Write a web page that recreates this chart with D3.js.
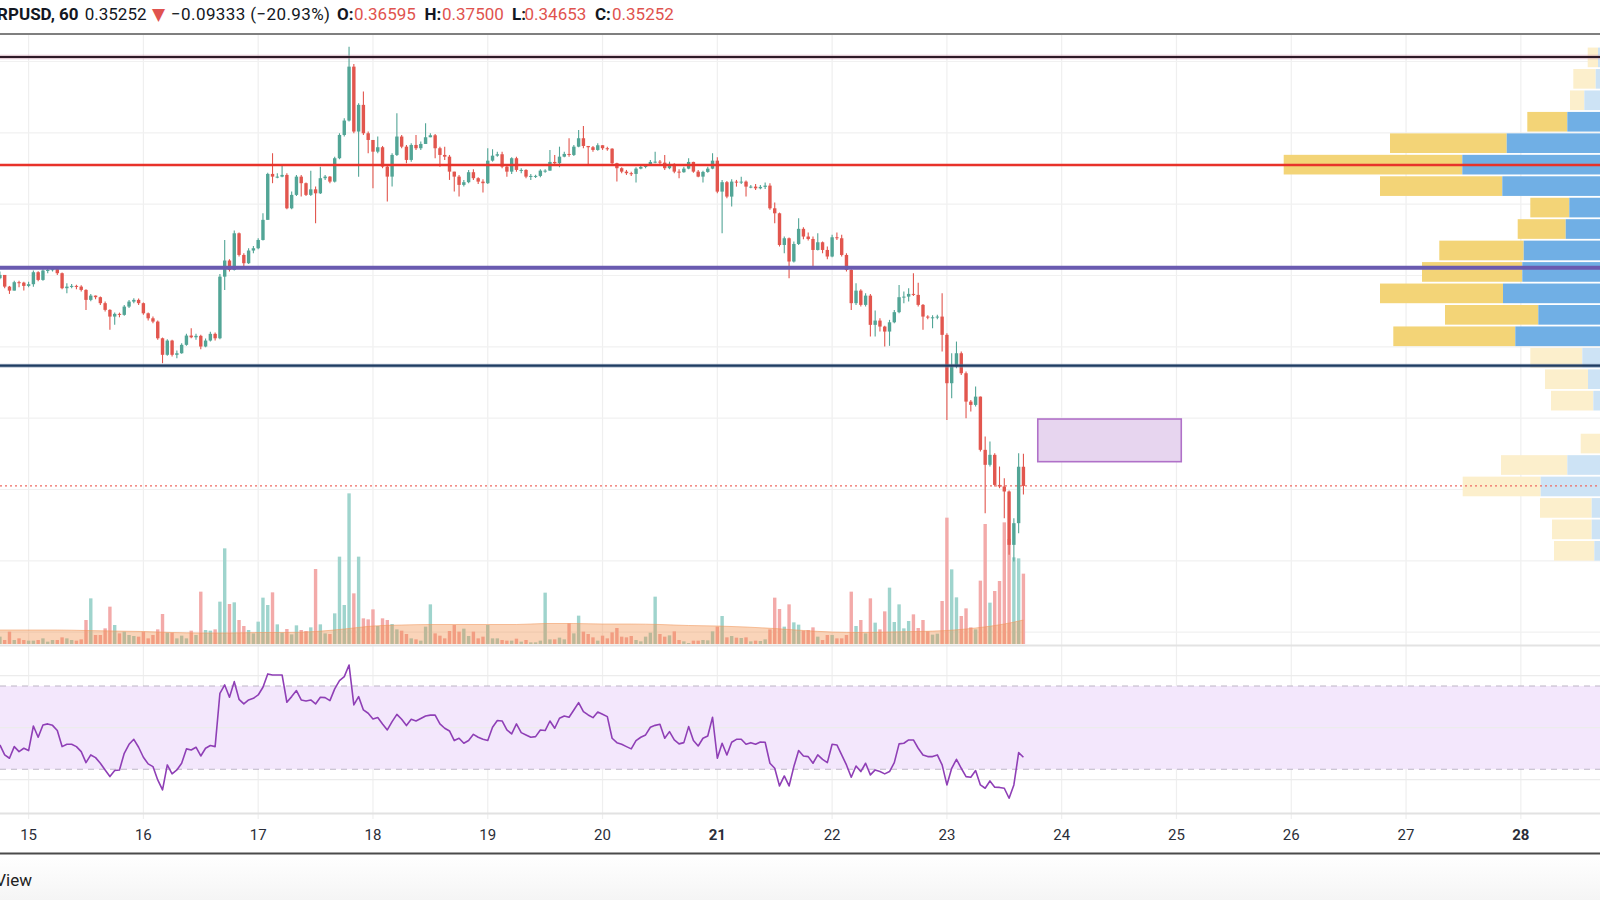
<!DOCTYPE html>
<html><head><meta charset="utf-8">
<script src="https://cdn.jsdelivr.net/npm/d3@7"></script>
<style>html,body{margin:0;padding:0;background:#fff;overflow:hidden}svg{display:block;font-family:Roboto,"Noto Sans",sans-serif}</style>
</head><body>
<svg id="chart" width="1600" height="900"></svg>
<script>
// ---------------- DATA ----------------
const symbol = "XRPUSD, 60";
const headerChange = -0.09333;
const headerChangePct = -20.93;
const startHour = -6;            // first bar, hours after day 15 00:00
const firstOpen = 0.4981;
const closes = [0.5004,0.4922,0.4894,0.4953,0.4950,0.4927,0.4939,0.5023,0.4969,0.5035,
0.5039,0.5044,0.5016,0.4911,0.4922,0.4927,0.4922,0.4899,0.4829,0.4859,
0.4848,0.4806,0.4759,0.4712,0.4731,0.4724,0.4782,0.4817,0.4829,0.4806,
0.4735,0.4700,0.4677,0.4560,0.4444,0.4544,0.4444,0.4455,0.4514,0.4579,
0.4567,0.4577,0.4502,0.4544,0.4591,0.4560,0.4992,0.5105,0.5039,0.5296,
0.5144,0.5086,0.5175,0.5191,0.5249,0.5390,0.5712,0.5693,0.5693,0.5705,
0.5471,0.5565,0.5693,0.5647,0.5565,0.5604,0.5576,0.5682,0.5693,0.5658,
0.5822,0.5985,0.6086,0.6464,0.6009,0.6196,0.5997,0.5950,0.5868,0.5899,
0.5763,0.5693,0.5845,0.5974,0.5903,0.5810,0.5915,0.5892,0.5922,0.5969,
0.5983,0.5892,0.5845,0.5833,0.5728,0.5693,0.5635,0.5654,0.5724,0.5682,
0.5658,0.5647,0.5805,0.5840,0.5850,0.5763,0.5728,0.5822,0.5740,0.5740,
0.5693,0.5698,0.5698,0.5735,0.5735,0.5796,0.5787,0.5833,0.5852,0.5845,
0.5903,0.5962,0.5908,0.5899,0.5880,0.5913,0.5892,0.5889,0.5787,0.5752,
0.5728,0.5717,0.5712,0.5749,0.5761,0.5773,0.5796,0.5798,0.5791,0.5752,
0.5782,0.5728,0.5724,0.5749,0.5796,0.5728,0.5693,0.5726,0.5749,0.5805,
0.5588,0.5654,0.5553,0.5658,0.5651,0.5658,0.5623,0.5623,0.5611,0.5621,
0.5630,0.5471,0.5436,0.5214,0.5261,0.5098,0.5221,0.5327,0.5273,0.5256,
0.5179,0.5233,0.5179,0.5133,0.5268,0.5261,0.5144,0.5039,0.4806,0.4894,
0.4794,0.4859,0.4654,0.4684,0.4642,0.4607,0.4672,0.4743,0.4848,0.4852,
0.4871,0.4864,0.4794,0.4712,0.4707,0.4707,0.4712,0.4584,0.4245,0.4362,
0.4455,0.4315,0.4116,0.4093,0.4151,0.3778,0.3673,0.3743,0.3532,0.3521,
0.3486,0.3112,0.3264,0.36595,0.35252];
const highs = [0.5028,0.4988,0.4927,0.4964,0.4964,0.4957,0.4957,0.5035,0.5030,0.5044,
0.5053,0.5058,0.5049,0.5021,0.4946,0.4941,0.4936,0.4932,0.4904,0.4871,
0.4857,0.4852,0.4817,0.4764,0.4740,0.4740,0.4794,0.4829,0.4841,0.4838,
0.4810,0.4740,0.4712,0.4684,0.4565,0.4553,0.4549,0.4474,0.4525,0.4591,
0.4630,0.4591,0.4584,0.4558,0.4605,0.4600,0.5011,0.5249,0.5114,0.5315,
0.5301,0.5156,0.5191,0.5207,0.5261,0.5436,0.5721,0.5857,0.5717,0.5775,
0.5717,0.5588,0.5705,0.5705,0.5651,0.5735,0.5623,0.5763,0.5705,0.5698,
0.5833,0.5997,0.6102,0.6604,0.6483,0.6207,0.6289,0.6009,0.5950,0.5974,
0.5908,0.5782,0.5857,0.6137,0.5985,0.5915,0.5927,0.5985,0.5939,0.6067,
0.5997,0.5992,0.5903,0.5903,0.5845,0.5728,0.5705,0.5670,0.5740,0.5745,
0.5689,0.5675,0.5892,0.5885,0.5868,0.5868,0.5768,0.5829,0.5833,0.5752,
0.5745,0.5712,0.5707,0.5745,0.5745,0.5880,0.5845,0.5903,0.5868,0.5962,
0.5915,0.6020,0.6048,0.5908,0.5908,0.5927,0.5913,0.5903,0.5892,0.5791,
0.5759,0.5740,0.5728,0.5759,0.5775,0.5782,0.5810,0.5868,0.5810,0.5845,
0.5798,0.5787,0.5745,0.5763,0.5822,0.5798,0.5740,0.5735,0.5763,0.5857,
0.5829,0.5670,0.5663,0.5675,0.5670,0.5693,0.5665,0.5635,0.5642,0.5635,
0.5651,0.5647,0.5511,0.5441,0.5273,0.5266,0.5238,0.5401,0.5338,0.5301,
0.5273,0.5296,0.5238,0.5203,0.5285,0.5301,0.5285,0.5156,0.5044,0.4946,
0.4904,0.4876,0.4871,0.4754,0.4700,0.4647,0.4689,0.4759,0.4934,0.4887,
0.4911,0.5016,0.4950,0.4801,0.4721,0.4721,0.4724,0.4876,0.4595,0.4455,
0.4537,0.4467,0.4327,0.4128,0.4222,0.4151,0.3871,0.3836,0.3754,0.3661,
0.3579,0.3493,0.3299,0.3754,0.37500];
const lows = [0.4974,0.4911,0.4871,0.4894,0.4918,0.4894,0.4918,0.4922,0.4960,0.4964,
0.5016,0.5028,0.5004,0.4904,0.4876,0.4911,0.4904,0.4887,0.4759,0.4820,
0.4834,0.4794,0.4747,0.4619,0.4654,0.4707,0.4717,0.4773,0.4806,0.4794,
0.4724,0.4684,0.4665,0.4549,0.4385,0.4437,0.4432,0.4420,0.4451,0.4507,
0.4560,0.4549,0.4483,0.4497,0.4537,0.4544,0.4553,0.4899,0.5028,0.5035,
0.5133,0.5067,0.5081,0.5156,0.5184,0.5245,0.5390,0.5647,0.5682,0.5689,
0.5464,0.5464,0.5558,0.5553,0.5558,0.5558,0.5366,0.5572,0.5670,0.5647,
0.5651,0.5815,0.5974,0.6079,0.5997,0.5693,0.5985,0.5857,0.5611,0.5857,
0.5752,0.5518,0.5623,0.5838,0.5892,0.5787,0.5798,0.5880,0.5880,0.5927,
0.5969,0.5822,0.5763,0.5810,0.5670,0.5588,0.5553,0.5623,0.5647,0.5670,
0.5642,0.5581,0.5642,0.5798,0.5833,0.5752,0.5693,0.5712,0.5728,0.5717,
0.5682,0.5670,0.5684,0.5689,0.5721,0.5735,0.5775,0.5759,0.5829,0.5833,
0.5838,0.5899,0.5892,0.5782,0.5868,0.5875,0.5880,0.5875,0.5775,0.5658,
0.5717,0.5705,0.5698,0.5651,0.5745,0.5752,0.5768,0.5787,0.5782,0.5740,
0.5745,0.5717,0.5682,0.5721,0.5745,0.5721,0.5689,0.5651,0.5721,0.5745,
0.5576,0.5296,0.5541,0.5483,0.5623,0.5642,0.5553,0.5611,0.5600,0.5604,
0.5607,0.5460,0.5366,0.5203,0.5156,0.4981,0.5091,0.5214,0.5254,0.5245,
0.5063,0.5175,0.5156,0.5114,0.5128,0.5249,0.5133,0.5028,0.4759,0.4794,
0.4782,0.4782,0.4572,0.4572,0.4607,0.4502,0.4507,0.4665,0.4735,0.4806,
0.4817,0.4857,0.4782,0.4619,0.4693,0.4630,0.4693,0.4467,0.3988,0.4140,
0.4350,0.4303,0.3999,0.4046,0.4081,0.3766,0.3334,0.3661,0.3521,0.3509,
0.3299,0.3042,0.2995,0.3194,0.34653];
const volumes = [1.47,0.8,2.47,0.8,1.13,0.8,0.67,0.67,0.8,1.13,
0.47,0.8,0.8,1.33,1.13,0.8,0.67,0.93,4.8,9.13,
1.8,1.8,3.13,7.47,3.8,2.13,2.47,1.8,1.6,1.47,
2.47,1.13,1.8,2.93,6.0,2.27,2.27,1.13,1.67,1.13,
2.67,1.8,10.47,2.8,2.67,2.93,8.47,19.13,8.0,8.33,
4.8,3.6,2.8,2.13,4.47,9.27,7.8,10.33,3.93,2.27,
3.0,1.93,3.73,2.8,2.6,3.33,15.0,3.93,2.13,2.0,
6.13,17.47,7.8,30.13,10.13,17.47,5.13,4.93,6.93,3.6,
5.13,4.8,4.0,2.93,2.67,2.0,1.13,0.93,0.67,3.47,
7.93,2.13,1.67,1.13,2.6,3.8,2.47,3.07,1.6,2.47,
1.13,1.47,3.8,1.13,1.13,0.8,0.67,0.67,1.07,
0.47,0.8,0.33,0.33,0.67,10.27,0.93,0.93,1.27,0.93,
4.13,2.13,5.67,2.47,2.0,1.33,0.67,1.67,1.13,2.33,
3.2,1.47,1.33,1.6,0.8,0.53,1.47,2.27,9.47,2.0,
1.47,1.73,2.53,0.8,0.53,0.2,0.67,0.67,0.8,0.73,
2.53,3.47,5.6,1.33,1.6,1.27,1.2,1.33,0.53,0.67,
0.6,0.93,2.93,9.27,7.0,3.47,7.93,4.33,3.87,2.67,
2.8,3.33,1.47,0.8,1.8,1.8,1.13,1.13,1.8,10.47,
3.6,4.8,2.13,9.13,4.27,2.93,6.53,11.27,4.4,7.93,
3.13,4.6,5.93,3.2,4.8,2.53,1.87,2.07,8.6,25.27,
14.93,9.33,5.6,7.13,3.33,2.93,12.67,24.0,8.27,10.6,
12.6,24.33,21.0,17.33,17.13,14.07];
const volMAHours = [-6,0,6,12,18,24,30,36,42,48,54,60,66,72,78,84,90,96,102,108,114,120,126,132,138,144,150,156,162,168,174,180,186,192,198,204,208];
const volMA = [2.8,2.8,2.8,2.7,2.6,2.5,2.3,2.2,2.2,2.3,2.3,2.5,3.0,3.6,3.8,3.9,3.9,3.9,3.9,4.1,4.1,4.0,4.0,3.9,3.7,3.6,3.4,3.1,2.7,2.4,2.3,2.4,2.5,2.7,3.2,4.0,4.8];
const rsi = [41.7,36.9,35.3,40.9,38.5,40.1,39.0,50.8,45.4,51.3,
51.8,51.1,48.6,40.9,42.0,42.0,40.9,38.5,33.2,36.9,
35.6,32.9,29.7,26.5,29.4,29.7,37.7,42.0,44.4,40.6,
35.8,32.6,31.3,24.9,20.1,32.1,27.8,29.7,32.9,39.8,
39.3,40.6,36.4,40.1,41.4,40.9,66.5,70.5,64.6,72.1,
63.6,61.4,63.3,64.1,65.7,69.4,75.8,75.3,75.3,75.3,
62.2,64.9,67.8,63.3,62.8,63.3,61.4,64.6,64.4,63.0,
68.6,72.6,74.5,80.1,60.9,64.9,58.5,56.9,54.2,54.9,
51.8,48.9,52.9,56.4,54.0,51.0,54.0,53.2,54.4,55.6,
56.0,56.0,51.8,49.7,48.4,43.8,44.9,42.5,43.8,46.8,
45.4,44.4,43.8,50.2,53.4,53.2,48.9,47.0,51.8,47.6,
46.5,45.4,45.7,48.9,48.6,53.2,49.7,54.5,55.6,55.0,
58.5,62.0,57.7,56.1,54.8,57.5,56.4,55.3,44.9,42.8,
42.0,40.9,39.8,43.8,45.4,46.5,50.2,51.1,51.6,44.9,
48.1,44.1,42.2,42.8,50.5,43.8,41.2,44.9,46.0,55.0,
35.3,42.5,36.9,43.0,44.4,44.4,42.0,42.8,42.0,43.1,
43.0,32.9,30.5,22.0,26.8,22.0,31.3,39.0,36.4,36.1,
32.9,36.9,34.8,33.2,42.0,41.7,36.9,32.1,26.2,31.6,
28.9,32.9,27.3,29.7,28.9,27.8,28.9,33.2,42.2,42.5,
44.1,44.1,40.1,36.9,36.1,36.1,36.9,32.1,22.5,30.5,
34.8,30.5,26.5,26.2,29.4,22.5,20.9,24.4,21.4,21.3,
20.9,16.1,22.5,38.0,35.8];
const dayTicks = [15,16,17,18,19,20,21,22,23,24,25,26,27,28];
const boldDays = [21,28];
const priceGrid = [0.25,0.30,0.35,0.40,0.45,0.50,0.55,0.60,0.65];
const rsiGrid = [25,50,75];
const rsiBands = [30,70];
const levels = [0.6532,0.5775,0.5055,0.4368];
const lastPrice = 0.35252;
const boxHours = [211,241];
const boxPrices = [0.3695,0.3994];
const profileTop = 0.6604, profileBottom = 0.2995;
const profileUp   = [0.2,0.43,1.57,3.27,9.33,13.77,9.77,3.07,3.43,7.63,7.77,9.7,6.17,8.47,1.77,1.2,0.67,0,0,3.27,5.93,0.83,0.83,0.57];
const profileDown = [1.03,2.24,1.43,4.0,11.67,17.86,12.23,3.9,4.8,8.44,10.03,12.3,9.33,12.2,5.2,4.3,4.23,0,1.93,6.63,7.8,5.17,3.97,4.03];
const valueAreaRows = [3,13];

// ---------------- LAYOUT ----------------
const W = 1600;
const svg = d3.select("#chart");
const paneTop = 35, paneBottom = 645, rsiTop = 646, rsiBottom = 813;
const x = d3.scaleLinear().domain([-5.98, 328.55]).range([0, W]);
const y = d3.scaleLinear().domain([0.35, 0.60]).range([489.5, 132.83]);
const yVol = d3.scaleLinear().domain([0, 40]).range([644, 444]);
const yRsi = d3.scaleLinear().domain([30, 70]).range([769.3, 686]);
const hourOfDay = d => (d - 15) * 24;

const UP = "#52a596", DOWN = "#e2564e";
const defs = svg.append("defs");
defs.append("clipPath").attr("id","cp").append("rect").attr("x",0).attr("y",paneTop).attr("width",W).attr("height",paneBottom-paneTop);
defs.append("clipPath").attr("id","cr").append("rect").attr("x",0).attr("y",rsiTop).attr("width",W).attr("height",rsiBottom-rsiTop);
const fg = defs.append("linearGradient").attr("id","foot").attr("x1",0).attr("y1",0).attr("x2",0).attr("y2",1);
fg.append("stop").attr("offset","0").attr("stop-color","#ffffff");
fg.append("stop").attr("offset","1").attr("stop-color","#f5f5f5");

svg.append("rect").attr("width",W).attr("height",900).attr("fill","#fff");

// vertical grid
svg.append("g").selectAll("line").data(dayTicks).join("line")
  .attr("x1",d=>x(hourOfDay(d))).attr("x2",d=>x(hourOfDay(d)))
  .attr("y1",paneTop).attr("y2",rsiBottom+6)
  .attr("stroke","#efefef").attr("stroke-width",1.2);

const price = svg.append("g").attr("clip-path","url(#cp)");
price.append("g").selectAll("line").data(priceGrid).join("line")
  .attr("x1",0).attr("x2",W).attr("y1",d=>y(d)).attr("y2",d=>y(d))
  .attr("stroke","#f1f1f1").attr("stroke-width",1.2);

// bars
const bars = closes.map((c,i)=>{
  const o = i===0 ? firstOpen : closes[i-1];
  return {h:startHour+i, o, c, hi:Math.max(highs[i],o,c), lo:Math.min(lows[i],o,c), v:volumes[i], up:c>=o};
});
const bw = 3.4;
price.append("g").selectAll("rect").data(bars).join("rect")
  .attr("x",d=>x(d.h)-bw/2).attr("width",bw)
  .attr("y",d=>yVol(d.v)).attr("height",d=>644-yVol(d.v))
  .attr("fill",d=>d.up?"#9fd4cd":"#f3aaa9");
const maPts = volMAHours.map((h,i)=>({h, v:volMA[i]}));
price.append("path").datum(maPts)
  .attr("d",d3.area().x(d=>x(d.h)).y0(644).y1(d=>yVol(d.v)).curve(d3.curveMonotoneX))
  .attr("fill","rgba(240,135,60,0.36)");
price.append("path").datum(maPts)
  .attr("d",d3.line().x(d=>x(d.h)).y(d=>yVol(d.v)).curve(d3.curveMonotoneX))
  .attr("fill","none").attr("stroke","rgba(240,150,90,0.55)").attr("stroke-width",1);

// volume profile
const nRows = profileUp.length;
const edges = d3.range(nRows+1).map(i=>profileTop - i*(profileTop-profileBottom)/nRows);
const totals = profileUp.map((u,i)=>u+profileDown[i]);
const wp = d3.scaleLinear().domain([0, d3.max(totals)]).range([0, 316.3]);
const prof = price.append("g");
profileUp.forEach((u,i)=>{
  const va = i>=valueAreaRows[0] && i<=valueAreaRows[1];
  const yt = y(edges[i])+0.9, hh = y(edges[i+1])-y(edges[i])-1.8;
  const wu = wp(u), wd = wp(profileDown[i]);
  if (wd>0) prof.append("rect").attr("x",W-wu-wd).attr("y",yt).attr("width",wd).attr("height",hh).attr("fill",va?"#f3d477":"#fcefcc");
  if (wu>0) prof.append("rect").attr("x",W-wu).attr("y",yt).attr("width",wu).attr("height",hh).attr("fill",va?"#70afe5":"#cde3f5");
});

// candles
const cg = price.append("g");
cg.selectAll("line").data(bars).join("line")
  .attr("x1",d=>x(d.h)).attr("x2",d=>x(d.h)).attr("y1",d=>y(d.hi)).attr("y2",d=>y(d.lo))
  .attr("stroke",d=>d.up?UP:DOWN).attr("stroke-width",1.1);
cg.selectAll("rect").data(bars).join("rect")
  .attr("x",d=>x(d.h)-bw/2).attr("width",bw)
  .attr("y",d=>y(Math.max(d.o,d.c))).attr("height",d=>Math.max(1,Math.abs(y(d.o)-y(d.c))))
  .attr("fill",d=>d.up?UP:DOWN);

// box
price.append("rect").attr("x",x(boxHours[0])).attr("width",x(boxHours[1])-x(boxHours[0]))
  .attr("y",y(boxPrices[1])).attr("height",y(boxPrices[0])-y(boxPrices[1]))
  .attr("fill","#e7d5ef").attr("stroke","#b071c8").attr("stroke-width",1.6);

// levels
const lvStyles = [
  [{c:"rgba(190,140,160,0.45)",w:4.5},{c:"#2e1a27",w:2}],
  [{c:"#e8322a",w:2.4}],
  [{c:"#6a5bb0",w:4}],
  [{c:"rgba(120,140,170,0.5)",w:4},{c:"#1f3c62",w:2.4}]
];
levels.forEach((p,i)=>{
  lvStyles[i].forEach(s=>price.append("line").attr("x1",0).attr("x2",W).attr("y1",y(p)).attr("y2",y(p))
    .attr("stroke",s.c).attr("stroke-width",s.w));
});
price.append("line").attr("x1",0).attr("x2",W).attr("y1",y(lastPrice)).attr("y2",y(lastPrice))
  .attr("stroke","#ee6b62").attr("stroke-width",1.2).attr("stroke-dasharray","2,3");

// pane separators
svg.append("line").attr("x1",0).attr("x2",W).attr("y1",645.5).attr("y2",645.5).attr("stroke","#e3e3e3").attr("stroke-width",2);

// RSI pane
const rg = svg.append("g").attr("clip-path","url(#cr)");
rg.append("rect").attr("x",0).attr("width",W).attr("y",yRsi(rsiBands[1])).attr("height",yRsi(rsiBands[0])-yRsi(rsiBands[1])).attr("fill","#f3e7fc");
rg.append("g").selectAll("line").data(rsiGrid).join("line")
  .attr("x1",0).attr("x2",W).attr("y1",d=>yRsi(d)).attr("y2",d=>yRsi(d)).attr("stroke","#ececec").attr("stroke-width",1.2);
rg.append("g").selectAll("line").data(rsiBands).join("line")
  .attr("x1",0).attr("x2",W).attr("y1",d=>yRsi(d)).attr("y2",d=>yRsi(d))
  .attr("stroke","#bdb6c6").attr("stroke-width",1.1).attr("stroke-dasharray","6,5");
rg.append("path").datum(rsi)
  .attr("d",d3.line().x((d,i)=>x(startHour+i)).y(d=>yRsi(d)))
  .attr("fill","none").attr("stroke","#8f3fb6").attr("stroke-width",1.6).attr("stroke-linejoin","round");

// time axis
svg.append("line").attr("x1",0).attr("x2",W).attr("y1",813.5).attr("y2",813.5).attr("stroke","#e2e2e2").attr("stroke-width",2);
svg.append("g").selectAll("text").data(dayTicks).join("text")
  .attr("x",d=>x(hourOfDay(d))).attr("y",840).attr("text-anchor","middle")
  .attr("font-size",15).attr("fill","#2a2e39")
  .attr("font-weight",d=>boldDays.includes(d)?"700":"400")
  .text(d=>String(d));
svg.append("line").attr("x1",0).attr("x2",W).attr("y1",853.5).attr("y2",853.5).attr("stroke","#4a4a4a").attr("stroke-width",2);
svg.append("rect").attr("x",0).attr("y",855).attr("width",W).attr("height",45).attr("fill","url(#foot)");
svg.append("text").attr("x",32).attr("y",886).attr("text-anchor","end").attr("font-size",17).attr("fill","#222").text("TradingView");

// header
svg.append("line").attr("x1",0).attr("x2",W).attr("y1",34).attr("y2",34).attr("stroke","#555").attr("stroke-width",1.5);
const last = bars[bars.length-1];
const f5 = d3.format(".5f");
const minus = s => s.replace("-","\u2212");
const hdr = [
  {t:symbol, x:78.6, a:"end", b:true},
  {t:f5(last.c), x:84.7},
  {t:"\u25BC", x:152, col:"#e0534e", s:17, yy:20, f:"DejaVu Sans"},
  {t:minus(f5(headerChange))+" ("+minus(d3.format(".2f")(headerChangePct))+"%)", x:171, L:159},
  {t:"O:", x:337, b:true}, {t:f5(last.o), x:354, col:"#e0534e"},
  {t:"H:", x:424.5, b:true}, {t:f5(last.hi), x:442, col:"#e0534e"},
  {t:"L:", x:512, b:true}, {t:f5(last.lo), x:524.5, col:"#e0534e"},
  {t:"C:", x:595, b:true}, {t:f5(last.c), x:612, col:"#e0534e"}
];
const ht = svg.append("g").selectAll("text").data(hdr).join("text")
  .attr("x",d=>d.x).attr("y",d=>d.yy||20).attr("text-anchor",d=>d.a||"start")
  .attr("font-size",d=>d.s||17).attr("font-weight",d=>d.b?"700":"400")
  .attr("fill",d=>d.col||"#131722").text(d=>d.t);
ht.filter(d=>d.f).attr("font-family",d=>d.f);
ht.filter(d=>d.L).attr("textLength",d=>d.L).attr("lengthAdjust","spacing");
</script>
</body></html>
